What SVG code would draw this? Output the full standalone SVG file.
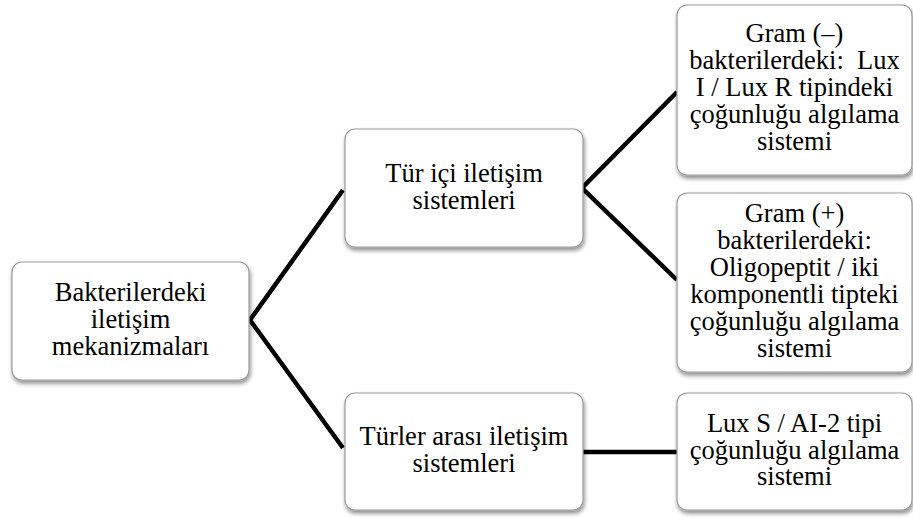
<svg xmlns="http://www.w3.org/2000/svg" width="913" height="518" viewBox="0 0 913 518">
<defs>
<filter id="sh" x="-10%" y="-10%" width="125%" height="130%">
<feDropShadow dx="1" dy="3" stdDeviation="2" flood-color="#000" flood-opacity="0.45"/>
</filter>
</defs>
<style>
.box{fill:#fff;stroke:#9a9a9a;stroke-width:1.2;filter:url(#sh)}
text{font-family:'Liberation Serif','Times New Roman',serif;font-size:26.5px;fill:#000;text-anchor:middle}
.c{stroke:#000;stroke-width:4.5;fill:none;stroke-linejoin:miter}
</style>
<g id="connectors">
<polyline class="c" points="343,190 250,320 343,448"/>
<polyline class="c" points="677,92 582,188 677,280"/>
<line class="c" x1="583" y1="452" x2="677" y2="452"/>
</g>
<g id="root">
<rect class="box" x="12" y="262" width="237" height="118" rx="10"/>
<text x="130.5" y="301">Bakterilerdeki</text>
<text x="130.5" y="328">iletişim</text>
<text x="130.5" y="355">mekanizmaları</text>
</g>
<g id="turici">
<rect class="box" x="345" y="129" width="238" height="118" rx="10"/>
<text x="464" y="182">Tür içi iletişim</text>
<text x="464" y="209">sistemleri</text>
</g>
<g id="turlerarasi">
<rect class="box" x="345" y="393" width="238" height="117" rx="10"/>
<text x="464" y="445">Türler arası iletişim</text>
<text x="464" y="472">sistemleri</text>
</g>
<g id="gramneg">
<rect class="box" x="677" y="5" width="235" height="170" rx="10"/>
<text x="794.5" y="42">Gram (–)</text>
<text x="794.5" y="69" xml:space="preserve">bakterilerdeki:  Lux</text>
<text x="794.5" y="96">I / Lux R tipindeki</text>
<text x="794.5" y="123">çoğunluğu algılama</text>
<text x="794.5" y="150">sistemi</text>
</g>
<g id="grampos">
<rect class="box" x="677" y="193" width="235" height="179" rx="10"/>
<text x="794.5" y="222">Gram (+)</text>
<text x="794.5" y="249">bakterilerdeki:</text>
<text x="794.5" y="276">Oligopeptit / iki</text>
<text x="794.5" y="303">komponentli tipteki</text>
<text x="794.5" y="330">çoğunluğu algılama</text>
<text x="794.5" y="357">sistemi</text>
</g>
<g id="luxs">
<rect class="box" x="677" y="393" width="235" height="117" rx="10"/>
<text x="794.5" y="432">Lux S / AI-2 tipi</text>
<text x="794.5" y="459">çoğunluğu algılama</text>
<text x="794.5" y="485">sistemi</text>
</g>
</svg>
